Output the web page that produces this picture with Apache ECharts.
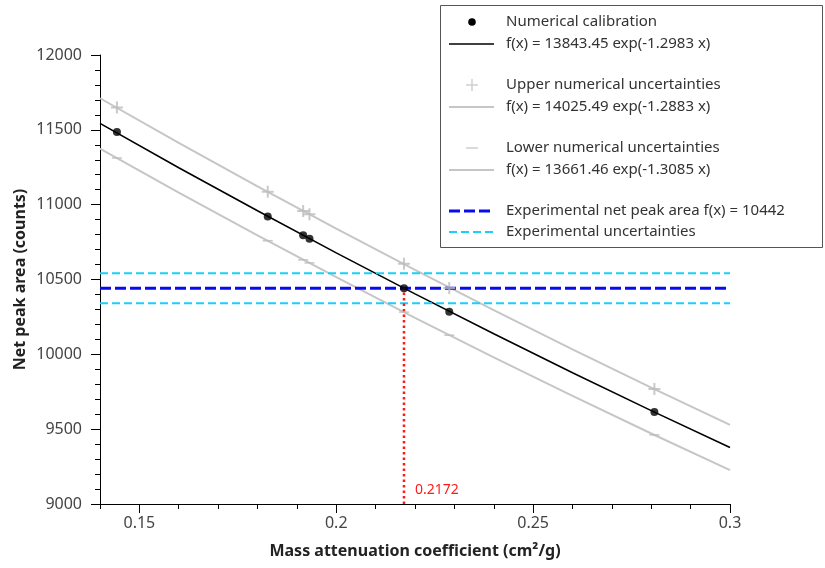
<!DOCTYPE html>
<html>
<head>
<meta charset="utf-8">
<script src="https://cdn.jsdelivr.net/npm/echarts@6/dist/echarts.min.js"></script>
<style>
html,body{margin:0;padding:0;background:#fff;}
#c{width:825px;height:568px;}
</style>
</head>
<body>
<div id="c"></div>
<script>
// ---- data ----
const xMajorTicks = [0.15, 0.2, 0.25, 0.3];
const xMinorTicks = [0.14, 0.15, 0.16, 0.17, 0.18, 0.19, 0.2, 0.21, 0.22, 0.23, 0.24, 0.25, 0.26, 0.27, 0.28, 0.29, 0.3];
const curveX = [0.14, 0.16, 0.18, 0.20, 0.22, 0.24, 0.26, 0.28, 0.30];
const calibCurve = [11543, 11247, 10959, 10678, 10404, 10137, 9877, 9624, 9378];
const upperCurve = [11711, 11413, 11123, 10840, 10564, 10295, 10033, 9778, 9529];
const lowerCurve = [11375, 11081, 10795, 10516, 10244, 9980, 9722, 9471, 9226];
const pointX = [0.1443, 0.1826, 0.1916, 0.1932, 0.2172, 0.2287, 0.2808];
const calibPoints = [11485, 10921, 10795, 10772, 10442, 10285, 9614];
const upperPoints = [11650, 11087, 10957, 10936, 10605, 10444, 9768];
const lowerPoints = [11312, 10759, 10631, 10611, 10282, 10128, 9462];
const expValue = 10442;
const expUpper = 10542;
const expLower = 10342;
const expX = 0.2172;
const xRange = [0.14, 0.3];
const yRange = [9000, 12000];
const legendTexts = [
  'Numerical calibration',
  'f(x) = 13843.45 exp(-1.2983 x)',
  'Upper numerical uncertainties',
  'f(x) = 14025.49 exp(-1.2883 x)',
  'Lower numerical uncertainties',
  'f(x) = 13661.46 exp(-1.3085 x)',
  'Experimental net peak area f(x) = 10442',
  'Experimental uncertainties'
];

// ---- build ----
const FONT = 'Noto Sans';
const zip = (xs, ys) => xs.map((x, i) => [x, ys[i]]);
const GRAY = '#c6c6c6';
const MARK_GRAY = '#bcbcbc';
const BLUE = '#0a0aee';
const CYAN = '#18d0f8';
const RED = '#ff1a1a';
const plusPath = 'path://M5,0h2v12h-2zM0,5h12v2h-12z';

const chart = echarts.init(document.getElementById('c'), null, {renderer: 'canvas'});

const option = {
  animation: false,
  backgroundColor: '#fff',
  grid: {left: 100, right: 95, top: 55, bottom: 64},
  xAxis: [{
    type: 'value', min: xRange[0], max: xRange[1],
    name: 'Mass attenuation coefficient (cm²/g)',
    nameLocation: 'middle', nameGap: 39,
    nameTextStyle: {fontFamily: FONT, fontSize: 16, fontWeight: 'bold', color: '#222'},
    axisLine: {show: true, lineStyle: {color: '#000', width: 1}},
    axisTick: {show: true, length: 9, customValues: xMajorTicks, lineStyle: {color: '#000'}},
    axisLabel: {customValues: xMajorTicks, margin: 11, fontFamily: FONT, fontSize: 16, color: '#444',
      formatter: v => String(+v.toFixed(2))},
    splitLine: {show: false}
  }, {
    type: 'value', min: xRange[0], max: xRange[1], position: 'bottom',
    axisLine: {show: false},
    axisTick: {show: true, length: 5, customValues: xMinorTicks, lineStyle: {color: '#000'}},
    axisLabel: {show: false},
    splitLine: {show: false}
  }],
  yAxis: [{
    type: 'value', min: yRange[0], max: yRange[1], interval: 500,
    name: 'Net peak area (counts)',
    nameLocation: 'middle', nameGap: 72, nameMoveOverlap: false,
    nameTextStyle: {fontFamily: FONT, fontSize: 16, fontWeight: 'bold', color: '#222'},
    axisLine: {show: true, lineStyle: {color: '#000', width: 1}},
    axisTick: {show: true, length: 9, lineStyle: {color: '#000'}},
    minorTick: {show: true, splitNumber: 5, length: 5, lineStyle: {color: '#000'}},
    axisLabel: {margin: 18, fontFamily: FONT, fontSize: 16, color: '#444', formatter: v => String(v)},
    splitLine: {show: false}
  }],
  series: [
    {type: 'line', name: 'upperFit', data: zip(curveX, upperCurve), showSymbol: false, symbol: 'none',
      lineStyle: {color: GRAY, width: 2}, z: 2, silent: true},
    {type: 'line', name: 'lowerFit', data: zip(curveX, lowerCurve), showSymbol: false, symbol: 'none',
      lineStyle: {color: GRAY, width: 2}, z: 2, silent: true},
    {type: 'line', name: 'calibFit', data: zip(curveX, calibCurve), showSymbol: false, symbol: 'none',
      lineStyle: {color: '#000', width: 1.6}, z: 3, silent: true},
    {type: 'line', name: 'expUpper', data: [[xRange[0], expUpper], [xRange[1], expUpper]], symbol: 'none',
      lineStyle: {color: CYAN, width: 2, type: [8, 4]}, z: 4, silent: true},
    {type: 'line', name: 'expLower', data: [[xRange[0], expLower], [xRange[1], expLower]], symbol: 'none',
      lineStyle: {color: CYAN, width: 2, type: [8, 4]}, z: 4, silent: true},
    {type: 'line', name: 'exp', data: [[xRange[0], expValue], [xRange[1], expValue]], symbol: 'none',
      lineStyle: {color: BLUE, width: 3, type: [11, 4]}, z: 4, silent: true},
    {type: 'line', name: 'expX', data: [[expX, yRange[0]], [expX, expValue]], symbol: 'none',
      lineStyle: {color: RED, width: 2.5, type: [2.5, 3]}, z: 5, silent: true},
    {type: 'scatter', name: 'upperPts', data: zip(pointX, upperPoints), symbol: plusPath, symbolSize: 12,
      itemStyle: {color: MARK_GRAY}, z: 6, silent: true},
    {type: 'scatter', name: 'lowerPts', data: zip(pointX, lowerPoints), symbol: 'rect', symbolSize: [10, 1.6],
      itemStyle: {color: MARK_GRAY}, z: 6, silent: true},
    {type: 'scatter', name: 'calibPts', data: zip(pointX, calibPoints), symbol: 'circle', symbolSize: 8,
      itemStyle: {color: '#000'}, z: 7, silent: true}
  ]
};
chart.setOption(option);

// ---- legend & annotation (graphics) ----
const rowY = [22, 44, 85, 107, 148, 170, 211, 232];
const tx = 506, mx = 472, lx1 = 449, lx2 = 494;
const g = [];
g.push({type: 'rect', shape: {x: 440.5, y: 5.5, width: 382, height: 242},
  style: {fill: '#fff', stroke: '#555', lineWidth: 1}, z: 100});
legendTexts.forEach((t, i) => {
  g.push({type: 'text', x: tx, y: rowY[i], z: 101,
    style: {text: t, fontFamily: FONT, fontSize: 15, fill: '#333', verticalAlign: 'middle', textAlign: 'left'}});
});
g.push({type: 'circle', shape: {cx: mx, cy: rowY[0], r: 3.8}, style: {fill: '#000'}, z: 101});
g.push({type: 'line', shape: {x1: lx1, y1: rowY[1], x2: lx2, y2: rowY[1]}, style: {stroke: '#000', lineWidth: 1.6}, z: 101});
g.push({type: 'line', shape: {x1: mx - 6, y1: rowY[2], x2: mx + 6, y2: rowY[2]}, style: {stroke: '#cfcfcf', lineWidth: 1.5}, z: 101});
g.push({type: 'line', shape: {x1: mx, y1: rowY[2] - 6, x2: mx, y2: rowY[2] + 6}, style: {stroke: '#cfcfcf', lineWidth: 1.5}, z: 101});
g.push({type: 'line', shape: {x1: lx1, y1: rowY[3], x2: lx2, y2: rowY[3]}, style: {stroke: GRAY, lineWidth: 2}, z: 101});
g.push({type: 'line', shape: {x1: mx - 6, y1: rowY[4], x2: mx + 6, y2: rowY[4]}, style: {stroke: '#cfcfcf', lineWidth: 1.5}, z: 101});
g.push({type: 'line', shape: {x1: lx1, y1: rowY[5], x2: lx2, y2: rowY[5]}, style: {stroke: GRAY, lineWidth: 2}, z: 101});
g.push({type: 'line', shape: {x1: lx1, y1: rowY[6], x2: lx2, y2: rowY[6]}, style: {stroke: BLUE, lineWidth: 3, lineDash: [11, 4]}, z: 101});
g.push({type: 'line', shape: {x1: lx1, y1: rowY[7], x2: lx2, y2: rowY[7]}, style: {stroke: CYAN, lineWidth: 2, lineDash: [8, 4]}, z: 101});

const p = chart.convertToPixel({xAxisIndex: 0, yAxisIndex: 0}, [expX, yRange[0]]);
g.push({type: 'text', x: p[0] + 11, y: p[1] - 14, z: 101,
  style: {text: String(expX), fontFamily: FONT, fontSize: 14, fill: RED, verticalAlign: 'middle', textAlign: 'left'}});

chart.setOption({graphic: g});
</script>
</body>
</html>
